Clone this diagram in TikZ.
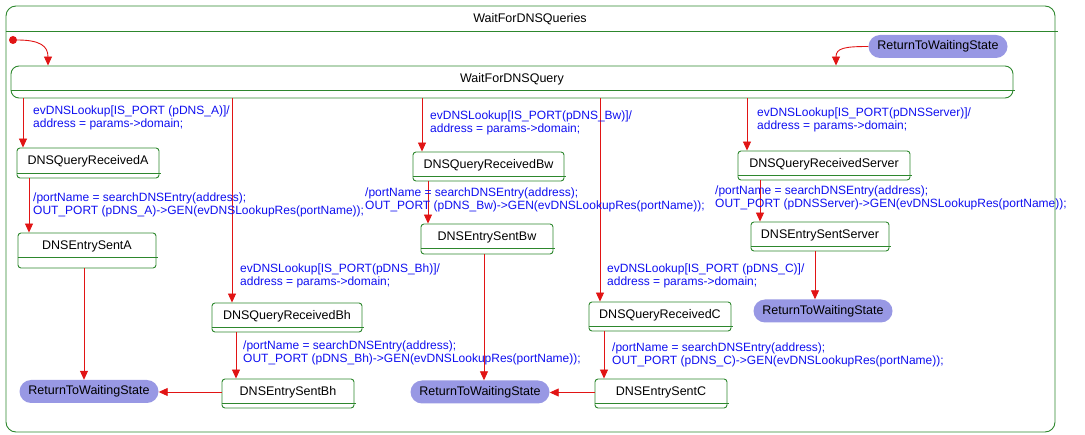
\documentclass[tikz,border=0pt]{standalone}
\usepackage{fontspec}
\setmainfont{Liberation Sans}
\usetikzlibrary{arrows.meta,shapes.misc}

\definecolor{stgreen}{RGB}{45,135,45}
\definecolor{trred}{RGB}{225,20,20}
\definecolor{lblue}{RGB}{15,15,240}
\definecolor{retfill}{RGB}{152,152,228}

% two-line transition label, baseline of the node = baseline of the first line
\newcommand{\twolines}[2]{\vtop{\hbox{#1}\hbox{#2}}}

\tikzset{
  stline/.style={draw=stgreen, line width=0.9pt},
  statebox/.style={stline, rounded corners=3pt, inner sep=0pt,
    font=\fontsize{12.5}{13}\selectfont, text height=9pt, text depth=#1},
  retstate/.style={rounded rectangle, fill=retfill, draw=none, inner sep=0pt,
    minimum width=139pt, minimum height=23pt, font=\fontsize{12.5}{13}\selectfont},
  trans/.style={draw=trred, line width=0.9pt, -{Triangle[length=9pt,width=8pt]}},
  evlabel/.style={anchor=base west, inner sep=0pt, text=lblue,
    font=\fontsize{12}{12.5}\selectfont},
}

\begin{document}
\begin{tikzpicture}[x=1pt,y=-1pt]
\useasboundingbox (0,0) rectangle (1085,435);

% enclosing state
\node[stline, rounded corners=10pt, minimum width=1049pt, minimum height=426pt,
      inner sep=0pt] (outer) at (530.5,219) {};
\draw[stline] (outer.west |- 0,31) -- (1058,31);
\node[font=\fontsize{12.5}{13}\selectfont, inner sep=0pt] (title) at (530,19) {WaitForDNSQueries};

% waiting state
\node[statebox=8pt, rounded corners=8pt, minimum width=1002pt, minimum height=32pt]
      (wq) at (512,82) {WaitForDNSQuery};

% query / entry states
\node[statebox=5pt, minimum width=142pt, minimum height=30pt] (qa) at (88,163) {DNSQueryReceivedA};
\node[statebox=11pt, minimum width=138pt, minimum height=35pt] (ea) at (87,250.5) {DNSEntrySentA};
\node[statebox=5pt, minimum width=151pt, minimum height=29pt] (qbw) at (488.5,166.5) {DNSQueryReceivedBw};
\node[statebox=6pt, minimum width=132pt, minimum height=30pt] (ebw) at (487,239) {DNSEntrySentBw};
\node[statebox=5pt, minimum width=172pt, minimum height=29pt] (qs) at (824,165.5) {DNSQueryReceivedServer};
\node[statebox=5pt, minimum width=138pt, minimum height=29pt] (es) at (820,236.5) {DNSEntrySentServer};
\node[statebox=5pt, minimum width=150pt, minimum height=29pt] (qbh) at (287,317.5) {DNSQueryReceivedBh};
\node[statebox=5pt, minimum width=132pt, minimum height=29pt] (ebh) at (288,393.5) {DNSEntrySentBh};
\node[statebox=5pt, minimum width=142pt, minimum height=29pt] (qc) at (660,316.5) {DNSQueryReceivedC};
\node[statebox=5pt, minimum width=132pt, minimum height=29pt] (ec) at (661,393.5) {DNSEntrySentC};

% inner divider lines of the states
\draw[stline] ([yshift=8pt]wq.south west) -- ([yshift=8pt,xshift=2pt]wq.south east);
\foreach \n/\g in {qa/5,ea/11,qbw/5,ebw/6,qs/5,es/5,qbh/5,ebh/5,qc/5,ec/5}
  \draw[stline] ([yshift=\g pt]\n.south west) -- ([yshift=\g pt,xshift=2pt]\n.south east);

% return states
\node[retstate] (ret0) at (938,46.5) {ReturnToWaitingState};
\node[retstate] (retA) at (89,391.5) {ReturnToWaitingState};
\node[retstate] (retM) at (480,392) {ReturnToWaitingState};
\node[retstate] (retS) at (823,311) {ReturnToWaitingState};

% initial pseudo state
\node[circle, fill=trred, minimum size=8pt, inner sep=0pt] (init) at (13,40) {};
\draw[trans] (init.east) .. controls (40,40) and (48,46) .. (48,0 |- wq.north);
\draw[trans] (ret0.west) .. controls (845,46.5) and (836,48) .. (836,0 |- wq.north);

% lookup transitions
\draw[trans] (23,0 |- wq.south) -- (23,0 |- qa.north);
\draw[trans] (232,0 |- wq.south) -- (232,0 |- qbh.north);
\draw[trans] (422,0 |- wq.south) -- (422,0 |- qbw.north);
\draw[trans] (600,0 |- wq.south) -- (600,0 |- qc.north);
\draw[trans] (747,0 |- wq.south) -- (747,0 |- qs.north);

% reply transitions
\draw[trans] (29,0 |- qa.south) -- (29,0 |- ea.north);
\draw[trans] (428,0 |- qbw.south) -- (428,0 |- ebw.north);
\draw[trans] (760,0 |- qs.south) -- (760,0 |- es.north);
\draw[trans] (236,0 |- qbh.south) -- (236,0 |- ebh.north);
\draw[trans] (604,0 |- qc.south) -- (604,0 |- ec.north);

% back to waiting
\draw[trans] (84,0 |- ea.south) -- (84,0 |- retA.north);
\draw[trans] (484,0 |- ebw.south) -- (484,0 |- retM.north);
\draw[trans] (815,0 |- es.south) -- (815,0 |- retS.north);
\draw[trans] (ebh.west |- 0,392) -- (retA.east |- 0,392);
\draw[trans] (ec.west |- 0,392.5) -- (retM.east |- 0,392.5);

% transition labels
\node[evlabel] (evA) at (33,115) {\twolines{evDNSLookup[IS\_PORT (pDNS\_A)]/}{address = params->domain;}};
\node[evlabel] (evBw) at (430,120) {\twolines{evDNSLookup[IS\_PORT(pDNS\_Bw)]/}{address = params->domain;}};
\node[evlabel] (evS) at (757,117) {\twolines{evDNSLookup[IS\_PORT(pDNSServer)]/}{address = params->domain;}};
\node[evlabel] (evBh) at (240,273) {\twolines{evDNSLookup[IS\_PORT(pDNS\_Bh)]/}{address = params->domain;}};
\node[evlabel] (evC) at (607,273) {\twolines{evDNSLookup[IS\_PORT (pDNS\_C)]/}{address = params->domain;}};

\node[evlabel] (acA) at (33,202) {\twolines{/portName = searchDNSEntry(address);}{OUT\_PORT (pDNS\_A)->GEN(evDNSLookupRes(portName));}};
\node[evlabel] (acBw) at (365,197) {\twolines{/portName = searchDNSEntry(address);}{OUT\_PORT (pDNS\_Bw)->GEN(evDNSLookupRes(portName));}};
\node[evlabel] (acS) at (715,195) {\twolines{/portName = searchDNSEntry(address);}{OUT\_PORT (pDNSServer)->GEN(evDNSLookupRes(portName));}};
\node[evlabel] (acBh) at (243,350) {\twolines{/portName = searchDNSEntry(address);}{OUT\_PORT (pDNS\_Bh)->GEN(evDNSLookupRes(portName));}};
\node[evlabel] (acC) at (612,352) {\twolines{/portName = searchDNSEntry(address);}{OUT\_PORT (pDNS\_C)->GEN(evDNSLookupRes(portName));}};
\end{tikzpicture}
\end{document}
